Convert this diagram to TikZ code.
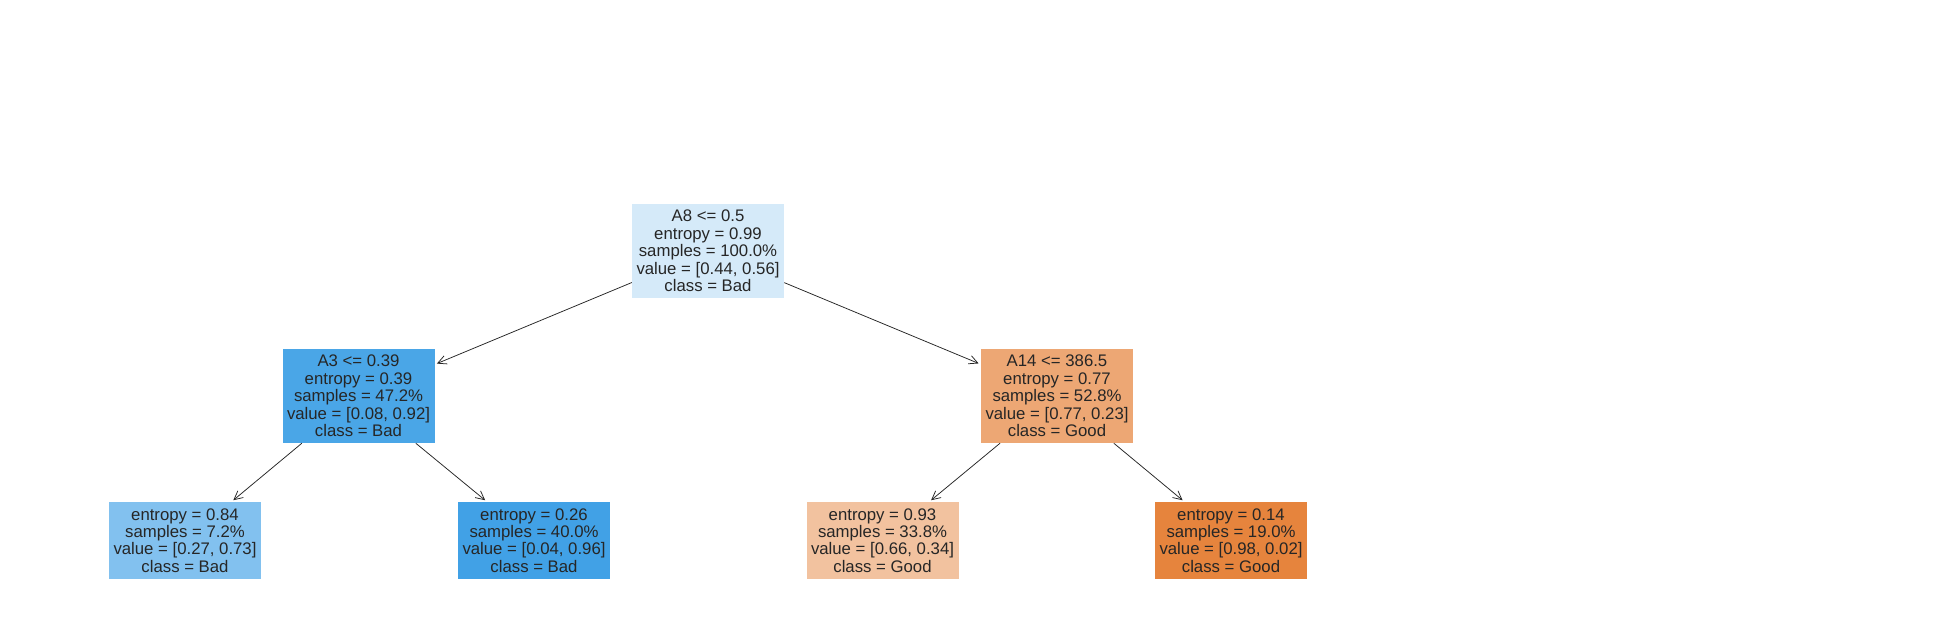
\documentclass[tikz,border=0pt]{standalone}
\usepackage{fontspec}
\setmainfont{Liberation Sans}
\usepackage{tikz}
\usetikzlibrary{arrows.meta}

\definecolor{inkgray}{RGB}{38,38,38}
\definecolor{rootfill}{RGB}{213,234,249}
\definecolor{leftfill}{RGB}{74,166,231}
\definecolor{rightfill}{RGB}{237,167,116}
\definecolor{leafa}{RGB}{130,193,239}
\definecolor{leafb}{RGB}{65,161,230}
\definecolor{leafc}{RGB}{242,194,159}
\definecolor{leafd}{RGB}{230,132,61}

\begin{document}
\begin{tikzpicture}[x=0.03cm,y=-0.03cm,
  font=\fontsize{14.3pt}{14.9pt}\selectfont,
  split node/.style={align=center,text=inkgray,inner sep=0pt,minimum width=4.56cm,minimum height=2.82cm},
  leaf node/.style={split node,minimum height=2.31cm},
  edge/.style={draw=inkgray,line width=0.65pt,shorten >=2pt,-{Straight Barb[length=2.6mm,width=2.6mm]}}]

\useasboundingbox (0,0) rectangle (1957,623);

\node at (708,251) [split node,fill=rootfill] (A) {A8 <= 0.5\\entropy = 0.99\\samples = 100.0\%\\value = [0.44, 0.56]\\class = Bad};
\node at (358.5,396) [split node,fill=leftfill] (B) {A3 <= 0.39\\entropy = 0.39\\samples = 47.2\%\\value = [0.08, 0.92]\\class = Bad};
\node at (1057,396) [split node,fill=rightfill] (C) {A14 <= 386.5\\entropy = 0.77\\samples = 52.8\%\\value = [0.77, 0.23]\\class = Good};
\node at (185,540.5) [leaf node,fill=leafa] (D) {entropy = 0.84\\samples = 7.2\%\\value = [0.27, 0.73]\\class = Bad};
\node at (534,540.5) [leaf node,fill=leafb] (E) {entropy = 0.26\\samples = 40.0\%\\value = [0.04, 0.96]\\class = Bad};
\node at (882.5,540.5) [leaf node,fill=leafc] (F) {entropy = 0.93\\samples = 33.8\%\\value = [0.66, 0.34]\\class = Good};
\node at (1231,540.5) [leaf node,fill=leafd] (G) {entropy = 0.14\\samples = 19.0\%\\value = [0.98, 0.02]\\class = Good};

\draw[edge] (A) -- (B);
\draw[edge] (A) -- (C);
\draw[edge] (B) -- (D);
\draw[edge] (B) -- (E);
\draw[edge] (C) -- (F);
\draw[edge] (C) -- (G);

\end{tikzpicture}
\end{document}
